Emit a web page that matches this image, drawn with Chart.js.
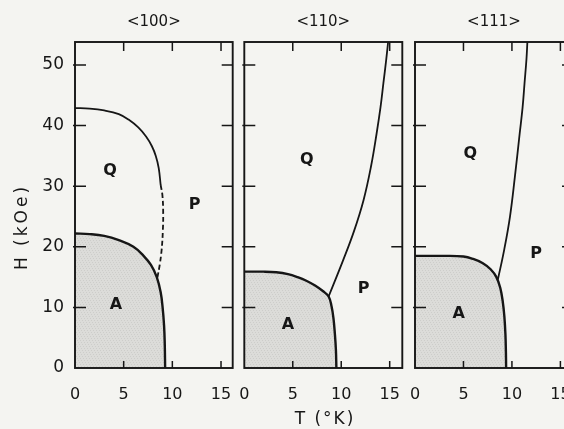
<!DOCTYPE html>
<html>
<head>
<meta charset="utf-8">
<title>H-T phase diagrams</title>
<script src="https://cdn.jsdelivr.net/npm/chart.js@4.4.1/dist/chart.umd.min.js"></script>
<style>
  html, body { margin: 0; padding: 0; background: #f4f4f1; overflow: hidden; width: 564px; height: 429px; }
  #wrap { position: relative; width: 600px; height: 429px; }
  canvas { position: absolute; top: 0; }
  .axis-title { position: absolute; font-family: 'DejaVu Sans', sans-serif; font-size: 17px; color: #161616; white-space: nowrap; text-align: center; }
  #xTitle { left: 265px; top: 408px; width: 120px; letter-spacing: 2px; }
  #yTitle { left: -39px; top: 217px; width: 120px; letter-spacing: 3px; transform: rotate(-90deg); }
</style>
</head>
<body>
<div id="wrap">
  <canvas id="p100" width="250" height="429" style="left:0px"></canvas>
  <canvas id="p110" width="190" height="429" style="left:230px"></canvas>
  <canvas id="p111" width="205" height="429" style="left:395px"></canvas>
  <div class="axis-title" id="xTitle">T (°K)</div>
  <div class="axis-title" id="yTitle">H (kOe)</div>
</div>
<script>
// axes
const xTicks = [0, 5, 10, 15];
const yTicks = [0, 10, 20, 30, 40, 50];
const panelTitles = ['<100>', '<110>', '<111>'];

// <100>: A/Q boundary, Q/P boundary (solid part, then dashed part)
const aT100 = [0, 1.5, 3, 4.5, 6, 7, 7.8, 8.4, 8.8, 9.0, 9.15, 9.22, 9.26];
const aH100 = [22.2, 22.1, 21.8, 21.1, 20, 18.6, 17, 15, 12.5, 10, 7, 4, 0];
const qT100 = [0, 1.5, 3, 4.5, 5.5, 6.5, 7.3, 7.9, 8.3, 8.6, 8.8];
const qH100 = [42.9, 42.8, 42.5, 41.9, 41.0, 39.7, 38.2, 36.6, 35.0, 33.0, 30.2];
const dT100 = [8.8, 8.98, 9.06, 9.02, 8.9, 8.7, 8.45];
const dH100 = [30.2, 28.5, 25.5, 22.5, 19.5, 17, 14.8];

// <110>
const aT110 = [0, 2, 3.3, 4.5, 5.5, 6.4, 7.3, 8.1, 8.7, 9.0, 9.2, 9.35, 9.45, 9.5];
const aH110 = [15.9, 15.9, 15.8, 15.5, 15.0, 14.4, 13.6, 12.7, 11.8, 10.2, 8.2, 5.5, 3, 0];
const qT110 = [8.7, 10.2, 11.3, 12.3, 13.1, 13.65, 14.05, 14.35, 14.65, 14.85];
const qH110 = [11.8, 17.8, 22.5, 27.7, 33.5, 38.7, 43, 47, 51, 54];

// <111>
const aT111 = [0, 3, 5, 6, 7, 7.8, 8.4, 8.8, 9.05, 9.22, 9.33, 9.38, 9.4];
const aH111 = [18.5, 18.5, 18.4, 18.0, 17.3, 16.3, 15.0, 13.2, 11.0, 8.5, 5.5, 2.5, 0];
const qT111 = [8.55, 9.2, 9.8, 10.3, 10.8, 11.1, 11.3, 11.5, 11.6];
const qH111 = [14.6, 19.5, 25, 31.5, 38.7, 43, 47, 51, 54];

// phase letters placed in data coordinates
const letters100 = [['Q', 3.6, 32.6], ['P', 12.3, 26.9], ['A', 4.2, 10.5]];
const letters110 = [['Q', 6.45, 34.3], ['P', 12.3, 13.1], ['A', 4.5, 7.1]];
const letters111 = [['Q', 5.7, 35.3], ['P', 12.5, 18.8], ['A', 4.5, 9.0]];

const ink = '#161616';
const fontFamily = "'DejaVu Sans', sans-serif";

// light stippled grey for the A phase
function stipple() {
    const c = document.createElement('canvas');
    c.width = 6; c.height = 6;
    const g = c.getContext('2d');
    g.fillStyle = '#dcdcd9';
    g.fillRect(0, 0, 6, 6);
    g.fillStyle = '#cdcdca';
    for (let i = 0; i < 6; i++) g.fillRect(i, (i * 2) % 6, 1, 1);
    return g.createPattern(c, 'repeat');
}
const shade = stipple();

function pts(ts, hs) {
    return ts.map((t, i) => ({ x: t, y: hs[i] }));
}

// frame with inward ticks on all four sides
const frameTicks = {
    id: 'frameTicks',
    afterDatasetsDraw(chart) {
        const { ctx, chartArea: a, scales } = chart;
        ctx.save();
        ctx.strokeStyle = ink;
        ctx.lineWidth = 1.9;
        ctx.strokeRect(a.left, a.top, a.right - a.left, a.bottom - a.top);
        ctx.lineWidth = 1.5;
        ctx.beginPath();
        xTicks.forEach(v => {
            if (v <= scales.x.min) return;
            const px = scales.x.getPixelForValue(v);
            ctx.moveTo(px, a.bottom); ctx.lineTo(px, a.bottom - 7);
            ctx.moveTo(px, a.top); ctx.lineTo(px, a.top + 9);
        });
        yTicks.forEach(v => {
            if (v <= scales.y.min) return;
            const py = scales.y.getPixelForValue(v);
            ctx.moveTo(a.left - 2, py); ctx.lineTo(a.left + 11, py);
            ctx.moveTo(a.right, py); ctx.lineTo(a.right - 11, py);
        });
        ctx.stroke();
        ctx.restore();
    }
};

function letterPlugin(items) {
    return {
        id: 'phaseLetters',
        afterDatasetsDraw(chart) {
            const { ctx, scales } = chart;
            ctx.save();
            ctx.fillStyle = ink;
            ctx.font = '600 16px ' + fontFamily;
            ctx.textAlign = 'center';
            ctx.textBaseline = 'middle';
            items.forEach(([txt, t, h]) => {
                ctx.fillText(txt, scales.x.getPixelForValue(t), scales.y.getPixelForValue(h));
            });
            ctx.restore();
        }
    };
}

function makePanel(id, title, xMax, pad, showY, datasets, letters) {
    return new Chart(document.getElementById(id), {
        type: 'line',
        data: { datasets: datasets },
        options: {
            responsive: false,
            animation: false,
            layout: { padding: pad },
            elements: { point: { radius: 0 } },
            plugins: {
                legend: { display: false },
                tooltip: { enabled: false },
                title: {
                    display: true,
                    text: title,
                    fullSize: false,
                    color: ink,
                    font: { family: fontFamily, size: 15, weight: 'normal' },
                    padding: { top: 13, bottom: 11 }
                }
            },
            scales: {
                x: {
                    type: 'linear',
                    min: 0,
                    max: xMax,
                    grid: { display: false },
                    border: { display: false },
                    afterBuildTicks: s => { s.ticks = xTicks.map(v => ({ value: v })); },
                    afterFit: s => { s.height = 61; },
                    ticks: {
                        color: ink,
                        padding: 9,
                        maxRotation: 0,
                        autoSkip: false,
                        font: { family: fontFamily, size: 16 }
                    }
                },
                y: {
                    display: showY,
                    min: 0,
                    max: 53.8,
                    grid: { display: false },
                    border: { display: false },
                    afterBuildTicks: s => { s.ticks = yTicks.map(v => ({ value: v })); },
                    afterFit: s => { s.width = showY ? 75 : 0; },
                    ticks: {
                        color: ink,
                        padding: 3,
                        font: { family: fontFamily, size: 17 }
                    }
                }
            }
        },
        plugins: [frameTicks, letterPlugin(letters)]
    });
}

function boundarySets(aT, aH, qT, qH) {
    return [
        { data: pts(aT, aH), borderColor: ink, borderWidth: 2.4, tension: 0.4, fill: 'origin', backgroundColor: shade },
        { data: pts(qT, qH), borderColor: ink, borderWidth: 1.8, tension: 0.4, fill: false }
    ];
}

const sets100 = boundarySets(aT100, aH100, qT100, qH100);
sets100.push({ data: pts(dT100, dH100), borderColor: ink, borderWidth: 1.8, borderDash: [5, 3], tension: 0.4, fill: false });

makePanel('p100', panelTitles[0], 16.2, { left: 0, right: 17.3, top: 0, bottom: 0 }, true, sets100, letters100);
makePanel('p110', panelTitles[1], 16.3, { left: 14.3, right: 17.7, top: 0, bottom: 0 }, false,
    boundarySets(aT110, aH110, qT110, qH110), letters110);
makePanel('p111', panelTitles[2], 16.3, { left: 20, right: 27, top: 0, bottom: 0 }, false,
    boundarySets(aT111, aH111, qT111, qH111), letters111);
</script>
</body>
</html>
